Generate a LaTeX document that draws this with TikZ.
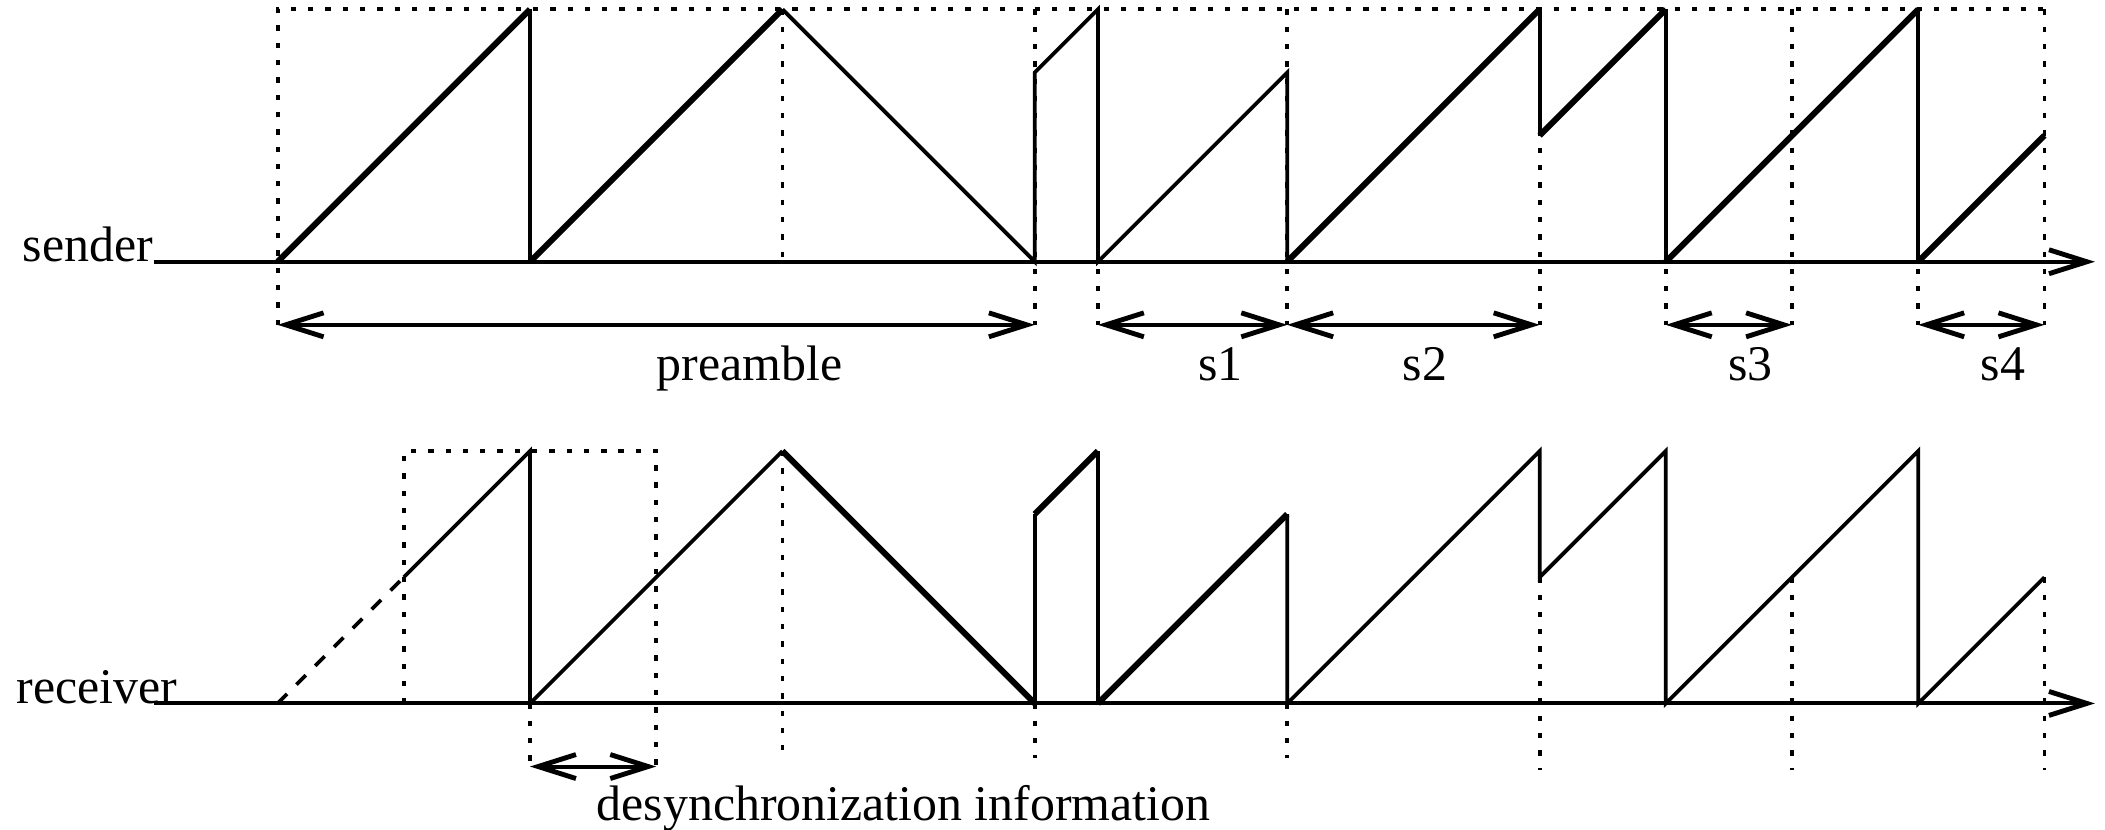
\documentclass[tikz,border=0pt]{standalone}
\usepackage{fontspec}
\setmainfont{Liberation Serif}
\usetikzlibrary{arrows.meta}

\begin{document}
\begin{tikzpicture}[x=1cm,y=1cm,font=\fontsize{11.25}{13}\selectfont]
  \tikzstyle{thinwave}=[line width=0.85pt,line join=miter]
  \tikzstyle{thickwave}=[line width=1.35pt,line join=miter]
  \tikzstyle{guide}=[line width=0.85pt,dash pattern=on 1.2pt off 2.7pt]
  \tikzstyle{axis}=[line width=0.9pt,-{Straight Barb[length=3mm,width=1.9mm,line width=1.1pt]}]
  \tikzstyle{span}=[line width=0.9pt,{Straight Barb[length=3mm,width=1.9mm,line width=1.1pt]}-{Straight Barb[length=3mm,width=1.9mm,line width=1.1pt]}]
  \tikzstyle{label}=[inner sep=0pt,anchor=base]

  \useasboundingbox (-2.2,-4.5) rectangle (14.48,2.074);

  % sender
  \draw[guide] (0,-0.5) -- (0,2) -- (14,2);
  \draw[guide] (4,2) -- (4,0);
  \foreach \x in {6,6.5,8,10,11,12,13,14}
    \draw[guide] (\x,2) -- (\x,-0.5);

  \draw[axis] (-0.98,0) coordinate (sstart) -- (14.4,0);
  \node[label,anchor=base east] (sender) at (sstart) {sender};

  \draw[thickwave] (0,0) -- (2,2);
  \draw[thinwave] (2,2) -- (2,0);
  \draw[thickwave] (2,0) -- (4,2);
  \draw[thinwave] (4,2) -- (6,0) -- (6,1.5) -- (6.5,2) -- (6.5,0) -- (8,1.5) -- (8,0);
  \draw[thickwave] (8,0) -- (10,2);
  \draw[thinwave] (10,2) -- (10,1);
  \draw[thickwave] (10,1) -- (11,2);
  \draw[thinwave] (11,2) -- (11,0);
  \draw[thickwave] (11,0) -- (13,2);
  \draw[thinwave] (13,2) -- (13,0);
  \draw[thickwave] (13,0) -- (14,1);

  \coordinate (p0) at (0,-0.5);
  \coordinate (p6) at (6,-0.5);
  \coordinate (p65) at (6.5,-0.5);
  \coordinate (p8) at (8,-0.5);
  \coordinate (p10) at (10,-0.5);
  \coordinate (p11) at (11,-0.5);
  \coordinate (p12) at (12,-0.5);
  \coordinate (p13) at (13,-0.5);
  \coordinate (p14) at (14,-0.5);
  \draw[span] (p0) -- (p6);
  \draw[span] (p65) -- (p8);
  \draw[span] (p8) -- (p10);
  \draw[span] (p11) -- (p12);
  \draw[span] (p13) -- (p14);

  \node[label] (preamble) at (3.74,-0.94) {preamble};
  \node[label] (s1) at (7.47,-0.94) {s1};
  \node[label] (s2) at (9.09,-0.94) {s2};
  \node[label] (s3) at (11.67,-0.94) {s3};
  \node[label] (s4) at (13.67,-0.94) {s4};

  % receiver
  \begin{scope}[yshift=-3.5cm]
    \draw[guide] (1,0) -- (1,2) -- (3,2) -- (3,-0.5);
    \draw[guide] (2,0) -- (2,-0.5);
    \draw[guide] (4,2) -- (4,-0.45);
    \foreach \x in {6,8}
      \draw[guide] (\x,0) -- (\x,-0.43);
    \foreach \x in {10,12,14}
      \draw[guide] (\x,1) -- (\x,-0.53);

    \draw[axis] (-0.98,0) -- (14.4,0);
    \node[label,anchor=base east] (receiver) at (-0.79,0) {receiver};

    \draw[thinwave,dashed] (0,0) -- (1,1);
    \draw[thinwave] (1,1) -- (2,2) -- (2,0) -- (4,2);
    \draw[thickwave] (4,2) -- (6,0);
    \draw[thinwave] (6,0) -- (6,1.5);
    \draw[thickwave] (6,1.5) -- (6.5,2);
    \draw[thinwave] (6.5,2) -- (6.5,0);
    \draw[thickwave] (6.5,0) -- (8,1.5);
    \draw[thinwave] (8,1.5) -- (8,0) -- (10,2) -- (10,1) -- (11,2) -- (11,0) -- (13,2) -- (13,0) -- (14,1);

    \coordinate (d2) at (2,-0.5);
    \coordinate (d3) at (3,-0.5);
    \draw[span] (d2) -- (d3);
    \node[label] (desync) at (4.96,-0.93) {desynchronization information};
  \end{scope}
\end{tikzpicture}
\end{document}
